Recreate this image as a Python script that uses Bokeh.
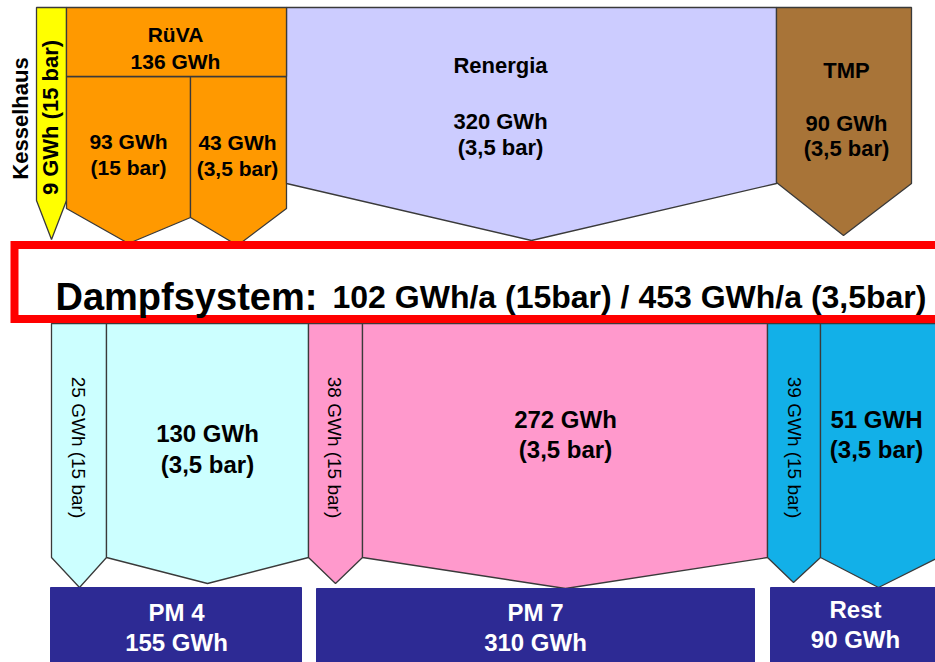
import math
from bokeh.plotting import figure
from bokeh.models import Range1d
from bokeh.core.properties import value
from bokeh.embed import file_html
from bokeh.resources import INLINE

# ---------------- data ----------------
supplier_names = ["Kesselhaus", "RüVA", "Renergia", "TMP"]
supplier_gwh = [9, 136, 320, 90]
ruva_split_gwh = [93, 43]
ruva_split_bar = ["15 bar", "3,5 bar"]
system_15bar = 102
system_35bar = 453
branch_gwh = [25, 130, 38, 272, 39, 51]
branch_bar = ["15 bar", "3,5 bar", "15 bar", "3,5 bar", "15 bar", "3,5 bar"]
branch_unit = ["GWh", "GWh", "GWh", "GWh", "GWh", "GWH"]
consumer_names = ["PM 4", "PM 7", "Rest"]
consumer_gwh = [155, 310, 90]

# ---------------- layout (pixel geometry) ----------------
FONT = value("Liberation Sans")
OUT = "#3a3a3a"

def arrow(x0, x1, top, yl, yr, tx, ty):
    return [x0, x1, x1, tx, x0], [top, top, yr, ty, yl]

# top arrows: Kesselhaus, RüVA 93, RüVA 43, Renergia, TMP
top_geo = [
    (36, 66, 7, 200, 200, 51, 239),
    (66, 190, 76, 208, 217, 128, 243),
    (190, 286, 76, 217, 208, 237, 245),
    (286, 776, 7, 183, 183, 531, 240),
    (776, 911, 7, 182, 183, 843, 235),
]
top_colors = ["#FFFF00", "#FF9900", "#FF9900", "#CCCCFF", "#A87438"]

bot_geo = [
    (51, 106, 323, 557, 557, 79, 587),
    (106, 308, 323, 557, 557, 207, 583),
    (308, 362, 323, 557, 557, 335, 583),
    (362, 767, 323, 557, 557, 565, 588),
    (767, 820, 323, 557, 557, 793, 582),
    (820, 938, 323, 557, 557, 878, 587),
]
bot_colors = ["#CCFFFF", "#CCFFFF", "#FF99CC", "#FF99CC", "#12B0E8", "#12B0E8"]

box_geo = [(50, 301, 587), (316, 754, 588), (770, 945, 587)]
NAVY = "#2D2A94"

p = figure(width=935, height=662, x_range=Range1d(0, 935), y_range=Range1d(662, 0),
           output_backend="svg", toolbar_location=None, min_border=0)
p.axis.visible = False
p.grid.visible = False
p.outline_line_color = None
p.background_fill_color = "white"
p.border_fill_color = "white"

xs, ys = [], []
for g in top_geo + bot_geo:
    a, b = arrow(*g)
    xs.append(a)
    ys.append(b)
p.patches(xs=xs, ys=ys, fill_color=top_colors + bot_colors, line_color=OUT, line_width=1.3)

# RüVA header
p.quad(left=[66], right=[286], top=[7], bottom=[76], fill_color="#FF9900", line_color=OUT, line_width=1.3)

# red system box
p.quad(left=[14], right=[960], top=[244.5], bottom=[318.5], fill_color="white",
       line_color="#FF0000", line_width=8, line_join="miter")

# consumer boxes
p.quad(left=[g[0] for g in box_geo], right=[g[1] for g in box_geo],
       top=[g[2] for g in box_geo], bottom=[680] * 3, fill_color=NAVY, line_color=NAVY)

def txt(x, y, t, size, color="black", bold=True, angle=0.0, align="center", baseline="middle"):
    p.text(x=x, y=y, text=t, text_font=FONT, text_font_size=size,
           text_font_style="bold" if bold else "normal", text_color=color,
           angle=angle, text_align=align, text_baseline=baseline)

# top labels
txt([20], [118], [supplier_names[0]], "22px", angle=math.pi / 2)
txt([50], [117], [f"{supplier_gwh[0]} GWh (15 bar)"], "22px", angle=math.pi / 2)
txt([175, 175], [34, 61], [supplier_names[1], f"{supplier_gwh[1]} GWh"], "21px")
txt([128, 128], [141, 167], [f"{ruva_split_gwh[0]} GWh", f"({ruva_split_bar[0]})"], "21px")
txt([237, 237], [142, 168], [f"{ruva_split_gwh[1]} GWh", f"({ruva_split_bar[1]})"], "21px")
txt([500, 500, 500], [65, 121, 147], [supplier_names[2], f"{supplier_gwh[2]} GWh", "(3,5 bar)"], "22px")
txt([846, 846, 846], [70, 123, 148], [supplier_names[3], f"{supplier_gwh[3]} GWh", "(3,5 bar)"], "22px")

# system text
txt([55], [296], ["Dampfsystem:"], "38px", align="left", baseline="alphabetic")
txt([332], [296], [f"{system_15bar} GWh/a (15bar) / {system_35bar} GWh/a (3,5bar)"], "32px",
    align="left", baseline="alphabetic")

# bottom branch labels
rot_x = [78, 334, 794]
for i, xi in zip([0, 2, 4], rot_x):
    txt([xi], [447], [f"{branch_gwh[i]} {branch_unit[i]} ({branch_bar[i]})"], "19px",
        bold=False, angle=-math.pi / 2)
big_pos = [(207, 433, 464), (565, 419, 449), (876, 419, 449)]
for i, (bx, by1, by2) in zip([1, 3, 5], big_pos):
    txt([bx, bx], [by1, by2], [f"{branch_gwh[i]} {branch_unit[i]}", f"({branch_bar[i]})"], "24px")

# consumer labels
cons_pos = [(176, 612, 642), (535, 612, 642), (855, 609, 639)]
for name, g, (cx, cy1, cy2) in zip(consumer_names, consumer_gwh, cons_pos):
    txt([cx, cx], [cy1, cy2], [name, f"{g} GWh"], "24px", color="white")

open("out.html", "w").write(file_html(p, INLINE))
